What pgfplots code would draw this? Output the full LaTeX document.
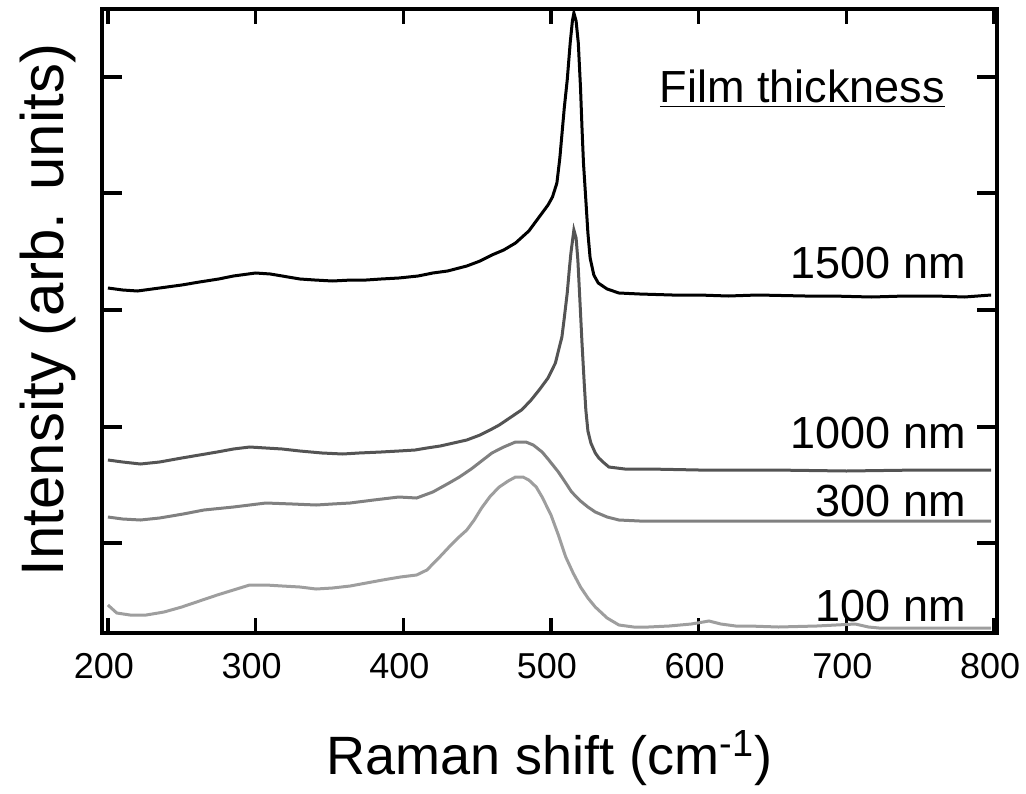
\documentclass[border=0pt]{standalone}
\usepackage{fontspec}
\setmainfont{Liberation Sans}
\usepackage{pgfplots}
\pgfplotsset{compat=1.18}

\definecolor{c1500}{gray}{0.0}
\definecolor{c1000}{gray}{0.33}
\definecolor{c300}{gray}{0.50}
\definecolor{c100}{gray}{0.62}

\begin{document}
\begin{tikzpicture}
\useasboundingbox (-51pt,-80pt) rectangle (462pt,316.5pt);
\begin{axis}[
    at={(0,0)}, anchor=south west,
    scale only axis,
    width=447.5pt, height=311.75pt,
    xmin=196, xmax=802,
    ymin=0, ymax=623.5,
    xtick={200,300,...,800},
    ytick={90,206,323,440,556},
    yticklabels={},
    tick align=inside,
    xtick pos=both, ytick pos=both,
    xtick style={/pgfplots/major tick length=7.5pt},
    ytick style={/pgfplots/major tick length=10pt},
    axis line style={line width=2pt},
    tick style={line width=1.75pt, black},
    /pgf/number format/assume math mode=true,
    /pgf/number format/set thousands separator={},
    xticklabel style={font=\fontsize{18}{18}\selectfont, anchor=base, yshift=-22.5pt, xshift=-2pt},
    xlabel={Raman shift (cm\textsuperscript{-1})},
    ylabel={Intensity (arb. units)},
    every axis x label/.style={at={(axis description cs:0.5,-0.2277)}, anchor=base,
        font=\fontsize{27}{27}\selectfont},
    every axis y label/.style={at={(axis description cs:-0.0425,0.518)}, rotate=90, anchor=base,
        font=\fontsize{30}{30}\selectfont},
]

% 1500 nm
\addplot[c1500, line width=1.5pt] coordinates {
(200,345) (210,343) (220,342) (230,344) (240,346) (250,348) (262,351) (275,354)
(285,357) (300,360) (310,359) (318,357) (330,354) (340,353) (352,352) (365,353)
(375,353) (385,354) (397,355) (410,357) (420,360) (430,362) (443,367) (452,372)
(460,378) (468,383) (476,390) (485,402) (492,416) (498,428) (501,436) (504,450)
(506,475) (507.5,500) (509,525) (511,553) (513,590) (514.5,612) (515.5,620)
(517,612) (518.5,590) (520,545) (521,505) (522,470) (523.6,433) (525,400)
(526.5,375) (529,358) (532,350) (538,344) (546,340) (560,339) (582,338) (600,338)
(620,337) (640,338) (672,337) (690,337) (717,336) (740,337) (760,337) (780,336)
(798,338)
};

% 1000 nm
\addplot[c1000, line width=1.5pt] coordinates {
(200,173) (210,171) (222,169) (235,171) (250,175) (262,178) (274,181) (285,184)
(296,186) (307,185) (318,184) (330,182) (345,180) (359,179) (370,180) (385,181)
(397,182) (408,183) (416,185) (425,187) (434,190) (443,193) (452,198) (460,204)
(465,208) (472,215) (480,223) (486,232) (492,243) (498,255) (503,270) (505.5,285)
(507.4,296) (509,315) (511,340) (512.5,365) (513.5,380) (515.5,403) (517,395)
(518.2,373) (519.5,335) (521,290) (522.5,250) (523.6,223) (525,202) (527,190)
(530,180) (532.4,175) (536,170) (539.2,166) (550,164) (566,164) (600,163)
(650,163) (700,162) (750,163) (798,163)
};

% 300 nm
\addplot[c300, line width=1.5pt] coordinates {
(200,116) (210,114) (222,113) (235,115) (251,119) (265,123) (285,126) (307,130)
(325,129) (341,128) (352,129) (364,130) (380,133) (397,136) (409,135) (420,141)
(431,150) (438,156) (446,164) (453,172) (460,180) (468,186) (476,191) (483,191)
(488,188) (494,181) (498,174) (505,161) (510,150) (514,141) (520,132) (525,126)
(530,121) (538,116) (546,113) (560,112) (600,112) (650,112) (700,112) (750,112)
(798,112)
};

% 100 nm
\addplot[c100, line width=1.5pt] coordinates {
(200,28) (206,20) (215,18) (226,18) (238,21) (250,26) (262,32) (274,38) (285,43)
(296,48) (307,48) (318,47) (330,46) (341,44) (352,45) (364,47) (375,50) (386,53)
(398,56) (409,58) (416,63) (424,75) (431,86) (437,95) (443,103) (448,113)
(453,125) (459,137) (465,146) (471,152) (476,156) (481,156) (485,153) (490,146)
(494,136) (500,118) (505,98) (510,76) (515,60) (520,46) (525,35) (530,26)
(538,15) (546,8) (556,6) (566,6) (580,7) (595,9) (607,12) (615,9) (625,7)
(634,7) (654,6) (680,7) (706,9) (715,6) (722,5) (750,5) (780,5) (798,5)
};

\node[anchor=base east, inner sep=0pt, font=\fontsize{22.5}{22.5}\selectfont] at (axis cs:767,530) {\underline{Film thickness}};
\node[anchor=base east, inner sep=0pt, font=\fontsize{22.5}{22.5}\selectfont] at (axis cs:781,355) {1500 nm};
\node[anchor=base east, inner sep=0pt, font=\fontsize{22.5}{22.5}\selectfont] at (axis cs:781,185) {1000 nm};
\node[anchor=base east, inner sep=0pt, font=\fontsize{22.5}{22.5}\selectfont] at (axis cs:781,117) {300 nm};
\node[anchor=base east, inner sep=0pt, font=\fontsize{22.5}{22.5}\selectfont] at (axis cs:781,12) {100 nm};
\end{axis}
\end{tikzpicture}
\end{document}
